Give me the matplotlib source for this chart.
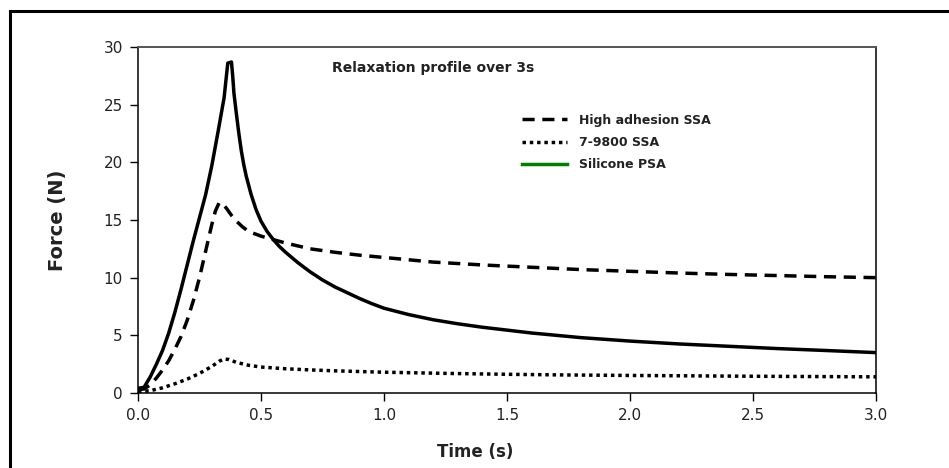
import matplotlib
matplotlib.use("Agg")
import matplotlib.pyplot as plt
from matplotlib.lines import Line2D
from matplotlib.patches import Rectangle

plt.rcParams['font.family'] = ['DejaVu Sans']

# Silicone PSA (solid)
t_psa = [0, 0.025, 0.05, 0.075, 0.10, 0.125, 0.15, 0.175, 0.20, 0.225, 0.25, 0.275,
         0.30, 0.325, 0.35, 0.365, 0.38, 0.385, 0.39, 0.40, 0.41, 0.42, 0.43, 0.44,
         0.46, 0.48, 0.50, 0.525, 0.55, 0.575, 0.60, 0.65, 0.70, 0.75, 0.80, 0.85,
         0.90, 0.95, 1.0, 1.1, 1.2, 1.3, 1.4, 1.5, 1.6, 1.8, 2.0, 2.2, 2.4, 2.6, 2.8, 3.0]
f_psa = [0.4, 0.5, 1.4, 2.5, 3.7, 5.2, 7.0, 9.0, 11.1, 13.2, 15.2, 17.2,
         19.7, 22.6, 25.6, 28.6, 28.7, 27.5, 26.0, 24.2, 22.5, 21.0, 19.8, 18.8,
         17.2, 15.9, 14.9, 14.0, 13.3, 12.7, 12.2, 11.3, 10.5, 9.8, 9.2, 8.7,
         8.2, 7.75, 7.35, 6.8, 6.35, 6.0, 5.7, 5.45, 5.2, 4.8, 4.5, 4.25, 4.05, 3.85, 3.68, 3.5]

# High adhesion SSA (dashed)
t_high = [0, 0.025, 0.05, 0.075, 0.10, 0.125, 0.15, 0.175, 0.20, 0.225, 0.25, 0.275,
          0.30, 0.315, 0.33, 0.345, 0.36, 0.38, 0.40, 0.425, 0.45, 0.50, 0.55, 0.60,
          0.70, 0.80, 0.90, 1.0, 1.2, 1.4, 1.6, 1.8, 2.0, 2.2, 2.4, 2.6, 2.8, 3.0]
f_high = [0.3, 0.35, 0.7, 1.3, 2.0, 2.8, 3.8, 4.9, 6.3, 8.0, 10.0, 12.3,
          14.6, 15.8, 16.5, 16.4, 16.0, 15.4, 14.9, 14.4, 14.0, 13.6, 13.3, 13.0,
          12.5, 12.2, 11.95, 11.75, 11.35, 11.1, 10.9, 10.7, 10.55, 10.4, 10.28, 10.18, 10.08, 10.0]

# 7-9800 SSA (dotted)
t_ssa = [0, 0.05, 0.10, 0.15, 0.20, 0.25, 0.30, 0.33, 0.35, 0.37, 0.40, 0.45, 0.50,
         0.6, 0.7, 0.8, 1.0, 1.25, 1.5, 1.75, 2.0, 2.5, 3.0]
f_ssa = [0.1, 0.2, 0.45, 0.8, 1.2, 1.7, 2.3, 2.75, 2.95, 2.9, 2.65, 2.4, 2.25,
         2.1, 2.0, 1.92, 1.8, 1.7, 1.62, 1.56, 1.52, 1.45, 1.4]

labels = ['High adhesion SSA', '7-9800 SSA', 'Silicone PSA']
x_ticks = [0.0, 0.5, 1.0, 1.5, 2.0, 2.5, 3.0]
y_ticks = [0, 5, 10, 15, 20, 25, 30]

txt = '#222222'

fig = plt.figure(figsize=(9.49, 4.68), dpi=100)
ax = fig.add_axes([0.1454, 0.1603, 0.7777, 0.7393])

# outer frame, cut off at right and bottom like the original
fig.patches.append(Rectangle((10 / 949, -0.05), 1.2, (468 - 11) / 468 + 0.05,
                             transform=fig.transFigure, fill=False,
                             edgecolor='black', linewidth=2.2, zorder=0))

ax.plot(t_psa, f_psa, color='black', linewidth=2.5, solid_joinstyle='round')
ax.plot(t_high, f_high, color='black', linewidth=2.5, dashes=(3.5, 2.2), dash_capstyle='butt')
ax.plot(t_ssa, f_ssa, color='black', linewidth=2.5, dashes=(1, 1.1), dash_capstyle='butt')

ax.set_xlim(0, 3.0)
ax.set_ylim(0, 30)
ax.set_xticks(x_ticks)
ax.set_xticklabels([f'{v:.1f}' for v in x_ticks])
ax.set_yticks(y_ticks)
ax.tick_params(axis='both', direction='out', length=6, width=1, labelsize=11,
               labelcolor=txt, pad=5)

for side in ['left', 'bottom', 'right']:
    ax.spines[side].set_color('black')
    ax.spines[side].set_linewidth(1.1)
ax.spines['top'].set_color('#555555')
ax.spines['top'].set_linewidth(1.4)

ax.set_ylabel('Force (N)', fontsize=14, fontweight='bold', color=txt)
ax.yaxis.set_label_coords(-0.096, 0.5)
ax.set_xlabel('Time (s)', fontsize=12, fontweight='bold', color=txt)
ax.xaxis.set_label_coords(0.457, -0.145)

ax.text(0.263, 0.939, 'Relaxation profile over 3s', transform=ax.transAxes,
        fontsize=10, fontweight='bold', color=txt, ha='left', va='center')

handles = [
    Line2D([0], [0], color='black', linewidth=2.5, dashes=(3.5, 2.2), dash_capstyle='butt'),
    Line2D([0], [0], color='black', linewidth=2.5, dashes=(1, 1.1), dash_capstyle='butt'),
    Line2D([0], [0], color='green', linewidth=2.5),
]
leg = ax.legend(handles, labels, loc='upper left', bbox_to_anchor=(0.505, 0.84),
                frameon=False, handlelength=3.6, handletextpad=1.0,
                labelspacing=0.75, prop={'size': 9, 'weight': 'bold'})
for t in leg.get_texts():
    t.set_color(txt)

fig.savefig('out.png', dpi=100)
plt.close(fig)
